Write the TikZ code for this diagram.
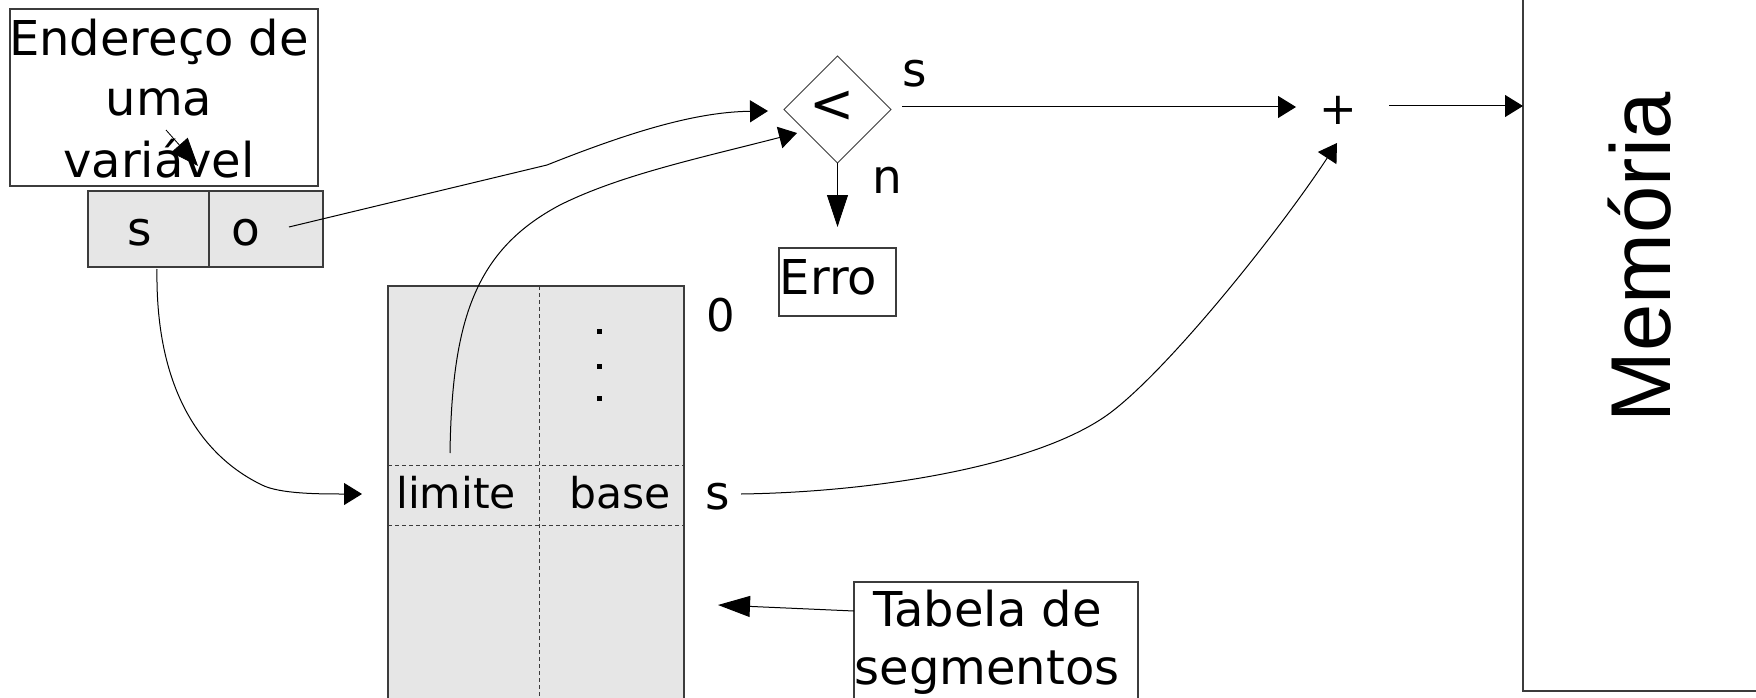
\documentclass[tikz,border=0pt]{standalone}
\usepackage{fontspec}
\setmainfont{DejaVu Sans}
\newfontfamily\memfont{Liberation Sans}
\usetikzlibrary{shapes.geometric,arrows.meta}
\definecolor{cellgray}{HTML}{E6E6E6}
\definecolor{lineGray}{HTML}{3C3C3C}
\begin{document}
\begin{tikzpicture}[x=1pt,y=-1pt,
  every node/.style={inner sep=0pt,outer sep=0pt},
  frame/.style={draw=lineGray,line width=1.2pt},
  cell/.style={frame,fill=cellgray},
  conn/.style={draw=black,line width=1pt},
  tipS/.style={-{Triangle[length=18pt,width=22pt]}},
  tipL/.style={-{Triangle[length=32pt,width=21pt]}},
  tipM/.style={-{Triangle[length=28pt,width=22pt]}},
  gridline/.style={draw=lineGray,line width=1pt,dash pattern=on 4pt off 3pt},
  fAddr/.style={font=\fontsize{48}{56}\selectfont},
  fRow/.style={font=\fontsize{42.5}{50}\selectfont},
  fLet/.style={font=\fontsize{47}{54}\selectfont},
  fNum/.style={font=\fontsize{45}{52}\selectfont},
  fBox/.style={font=\fontsize{48}{56}\selectfont},
  fLt/.style={font=\fontsize{54}{60}\selectfont},
  fMem/.style={font=\memfont\fontsize{85}{92}\selectfont},
]
\path[use as bounding box,fill=white] (0,0) rectangle (1756,698);
\clip (0,0) rectangle (1756,698);

% memory
\node[frame,minimum width=260,minimum height=720,anchor=south west] (mem) at (1523,691) {};
\node[fMem,rotate=90,anchor=base] (memtxt) at (1670,257) {Memória};

% address box
\node[frame,minimum width=308,minimum height=177,anchor=north west] (addr) at (10,9) {};
\node[fAddr,anchor=base] (addrA) at (159,56) {Endereço de};
\node[fAddr,anchor=base] (addrB) at (159,115.5) {uma};
\node[fAddr,anchor=base] (addrC) at (159,177) {variável};

% segment / offset
\node[cell,minimum width=235,minimum height=76,anchor=north west] (sobox) at (88,191) {};
\draw[frame] (209,191) -- (209,267);
\node[fLet,anchor=base] (segS) at (140,245) {s};
\node[fLet,anchor=base] (offO) at (246,245) {o};

% segment table
\node[cell,minimum width=296,minimum height=460,anchor=north west] (tab) at (388,286) {};
\draw[gridline] (539,286) -- (539,746);
\draw[gridline] (388,465) -- (684,465);
\draw[gridline] (388,525) -- (684,525);
\foreach \yy in {331,366,398} \fill (596.5,\yy-2.5) rectangle ++(5,5);
\node[fRow,anchor=base] (lim) at (456,508.5) {limite};
\node[fRow,anchor=base] (bas) at (620,508.5) {base};
\node[fLet,anchor=base] (rowS) at (718,509.5) {s};
\node[fNum,anchor=base] (row0) at (720.5,331) {0};

% comparator
\node[draw=lineGray,line width=1pt,diamond,aspect=1,minimum width=107,minimum height=107] (cmp) at (837.5,109.5) {};
\node[fLt] (lt) at (832,107) {<};
\node[fLet,anchor=base] (lblS) at (915,86.5) {s};
\node[fLet,anchor=base] (lblN) at (887,193.5) {n};

% Erro
\node[frame,minimum width=117,minimum height=68,anchor=north west] (erro) at (779,248) {};
\node[fBox,anchor=base] (errotxt) at (828.5,294) {Erro};

% adder
\node[fNum] (plus) at (1338,110) {+};

% Tabela label
\node[frame,minimum width=284,minimum height=200,anchor=north west] (tabela) at (854,582) {};
\node[fBox,anchor=base] (tabA) at (987.5,626) {Tabela de};
\node[fBox,anchor=base] (tabB) at (987,684) {segmentos};

% connector ends
\coordinate (oOut) at (289,227);
\coordinate (cmpIn1) at (768,111);
\coordinate (limOut) at (450,453);
\coordinate (cmpIn2) at (797,133);
\coordinate (cmpOut) at (902,107);
\coordinate (plusIn) at (1296,107);
\coordinate (plusOut) at (1389,106);
\coordinate (rowSOut) at (741,494);
\coordinate (plusIn2) at (1337,143);
\coordinate (segSOut) at (157,269);
\coordinate (tabRowIn) at (362,494);
\coordinate (tabOut) at (854,611);
\coordinate (tabIn) at (718,605);
\coordinate (ptrA) at (166,130);
\coordinate (ptrB) at (198,166);

% connectors
\draw[conn,tipS] (oOut) -- (547,165) .. controls (640,128) and (700,112) .. (cmpIn1);
\draw[conn,tipS] (limOut) .. controls (452,320) and (475,250) .. (560,205) .. controls (620,175) and (700,158) .. (cmpIn2);
\draw[conn,tipL,shorten >=21pt] (cmp.south) -- (erro.north);
\draw[conn,tipS] (cmpOut) -- (plusIn);
\draw[conn,tipS] (plusOut) -- (mem.west |- plusOut);
\draw[conn,tipS] (rowSOut) .. controls (880,492) and (1040,465) .. (1110,413) .. controls (1170,368) and (1280,230) .. (plusIn2);
\draw[conn,tipS] (segSOut) .. controls (155,400) and (210,460) .. (262,485) .. controls (280,494) and (320,494) .. (tabRowIn);
\draw[conn,tipL] (tabela.west |- tabOut) -- (tabIn);
\draw[conn,line width=0.8pt,tipM] (ptrA) -- (ptrB);
\end{tikzpicture}
\end{document}
